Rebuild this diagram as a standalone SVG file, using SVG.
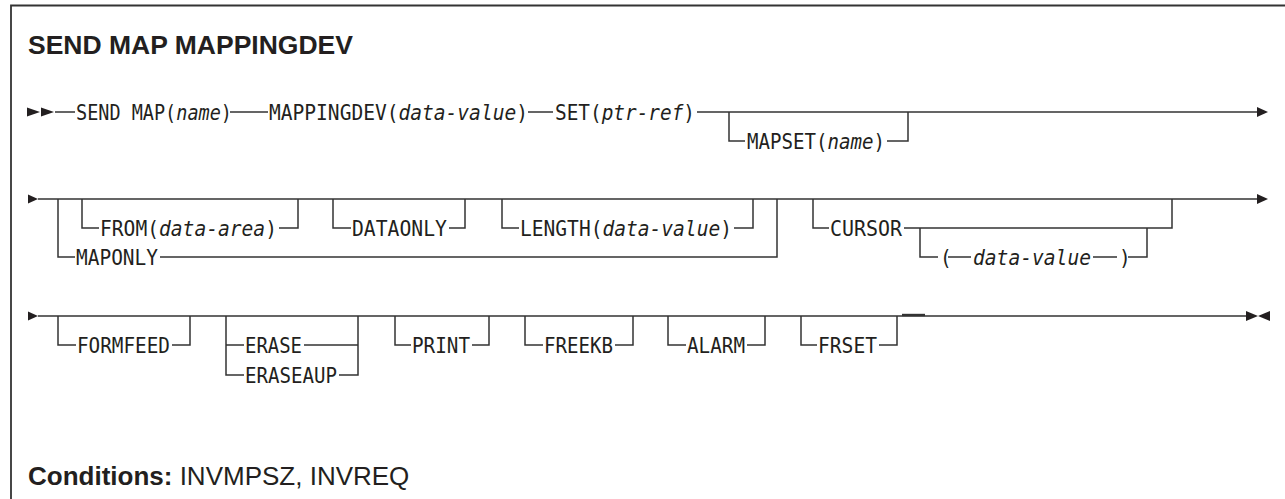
<svg xmlns="http://www.w3.org/2000/svg" width="1285" height="499" viewBox="0 0 1285 499">
<style>
.h{font-family:"Liberation Sans",Arial,sans-serif;font-weight:bold;font-size:26.5px;fill:#231f20}
.c{font-family:"Liberation Sans",Arial,sans-serif;font-size:26px;fill:#231f20}
.k{font-family:"DejaVu Sans Mono",monospace;font-size:19.5px;fill:#231f20}
.i{font-style:italic}
.ln{fill:none;stroke:#333;stroke-width:1.5}
.ar{fill:#231f20}
</style>
<rect width="1285" height="499" fill="#fff"/>
<path d="M11,499 V5.5 H1285" fill="none" stroke="#333" stroke-width="1.8"/>
<text class="h" x="28" y="54">SEND MAP MAPPINGDEV</text>

<g id="connectors">
<path class="ln" d="M55,112 H75 M230,112 H268 M528,112 H553 M697,112 H1258 M729,112 V141 H745 M887,141 H908 V112"/>
<path class="ln" d="M38,199 H1258 M58,199 V257 H75 M160,257 H777 V199 M82,199 V228 H99 M279,228 H298 V199 M333,199 V228 H351 M449,228 H465 V199 M502,199 V228 H519 M734,228 H753 V199 M813,199 V228 H829 M904,228 H1172 V199 M920,228 V257 H938 M948,257 H971 M1093,257 H1117 M1128,257 H1147 V228"/>
<path class="ln" d="M38,316 H1246 M58,316 V345 H76 M172,345 H190 V316 M226,316 V375 H244 M226,345 H244 M304,345 H358 M339,375 H358 V316 M395,316 V345 H411 M472,345 H489 V316 M525,316 V345 H543 M615,345 H633 V316 M668,316 V345 H686 M747,345 H765 V316 M801,316 V345 H817 M879,345 H897 V316"/>
<rect x="902" y="313.8" width="23" height="2.4" fill="#333"/>
<polygon class="ar" points="27,107.5 40,112 27,116.5"/>
<polygon class="ar" points="41,107.5 54,112 41,116.5"/>
<polygon class="ar" points="1257,107 1268,112 1257,117"/>
<polygon class="ar" points="28,194.5 38,199 28,203.5"/>
<polygon class="ar" points="1257,194 1268,199 1257,204"/>
<polygon class="ar" points="28,311.5 38,316 28,320.5"/>
<polygon class="ar" points="1246,311 1258,316 1246,321"/>
<polygon class="ar" points="1270,311 1258,316 1270,321"/>
</g>

<g id="send-map"><text class="k" style="font-size:18.5px" transform="translate(76,120) scale(1,1.18)" textLength="156" lengthAdjust="spacingAndGlyphs">SEND MAP(<tspan class="i">name</tspan>)</text></g>
<g id="mappingdev"><text class="k" transform="translate(269,120) scale(1,1.12)" textLength="259" lengthAdjust="spacingAndGlyphs">MAPPINGDEV(<tspan class="i">data-value</tspan>)</text></g>
<g id="set"><text class="k" transform="translate(555,120) scale(1,1.12)" textLength="140" lengthAdjust="spacingAndGlyphs">SET(<tspan class="i">ptr-ref</tspan>)</text></g>
<g id="mapset"><text class="k" transform="translate(747,149) scale(1,1.12)" textLength="138" lengthAdjust="spacingAndGlyphs">MAPSET(<tspan class="i">name</tspan>)</text></g>

<g id="from"><text class="k" transform="translate(100,236) scale(1,1.12)" textLength="177" lengthAdjust="spacingAndGlyphs">FROM(<tspan class="i">data-area</tspan>)</text></g>
<g id="dataonly"><text class="k" transform="translate(352,236) scale(1,1.12)" textLength="95" lengthAdjust="spacingAndGlyphs">DATAONLY</text></g>
<g id="length"><text class="k" transform="translate(520,236) scale(1,1.12)" textLength="212" lengthAdjust="spacingAndGlyphs">LENGTH(<tspan class="i">data-value</tspan>)</text></g>
<g id="cursor"><text class="k" transform="translate(830,236) scale(1,1.12)" textLength="72" lengthAdjust="spacingAndGlyphs">CURSOR</text></g>
<g id="cursor-value">
<text class="k" transform="translate(940,265) scale(1,1.12)">(</text>
<text class="k i" transform="translate(973,265) scale(1,1.12)" textLength="118" lengthAdjust="spacingAndGlyphs">data-value</text>
<text class="k" transform="translate(1119,265) scale(1,1.12)">)</text>
</g>
<g id="maponly"><text class="k" transform="translate(76,265) scale(1,1.12)" textLength="82" lengthAdjust="spacingAndGlyphs">MAPONLY</text></g>

<g id="formfeed"><text class="k" transform="translate(77,353) scale(1,1.12)" textLength="93" lengthAdjust="spacingAndGlyphs">FORMFEED</text></g>
<g id="erase"><text class="k" transform="translate(245,353) scale(1,1.12)" textLength="57" lengthAdjust="spacingAndGlyphs">ERASE</text></g>
<g id="eraseaup"><text class="k" transform="translate(245,383) scale(1,1.12)" textLength="92" lengthAdjust="spacingAndGlyphs">ERASEAUP</text></g>
<g id="print"><text class="k" transform="translate(412,353) scale(1,1.12)" textLength="58" lengthAdjust="spacingAndGlyphs">PRINT</text></g>
<g id="freekb"><text class="k" transform="translate(544,353) scale(1,1.12)" textLength="69" lengthAdjust="spacingAndGlyphs">FREEKB</text></g>
<g id="alarm"><text class="k" transform="translate(687,353) scale(1,1.12)" textLength="58" lengthAdjust="spacingAndGlyphs">ALARM</text></g>
<g id="frset"><text class="k" transform="translate(818,353) scale(1,1.12)" textLength="59" lengthAdjust="spacingAndGlyphs">FRSET</text></g>

<text class="c" x="28" y="485"><tspan font-weight="bold">Conditions:</tspan> INVMPSZ, INVREQ</text>
</svg>
